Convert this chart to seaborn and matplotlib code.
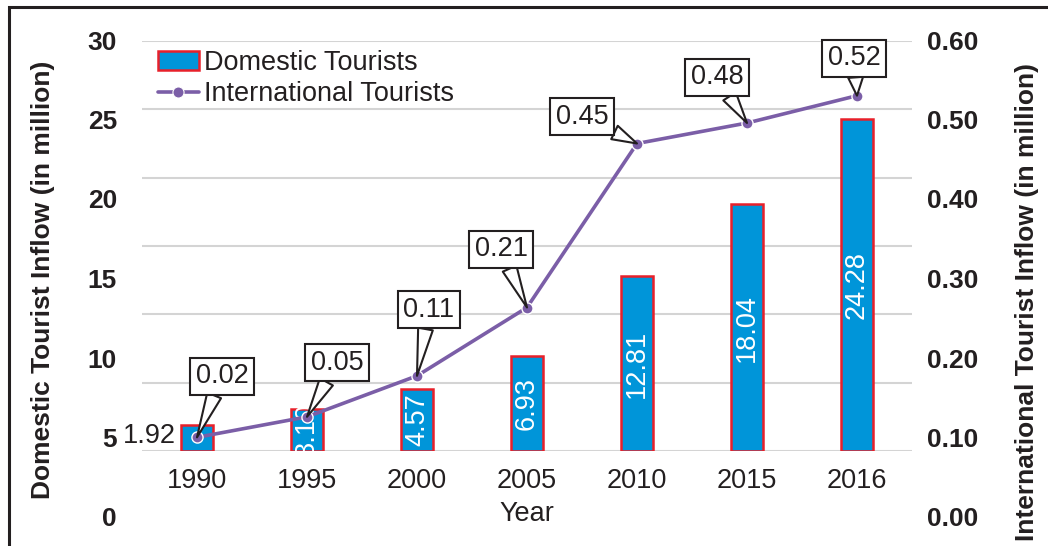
import numpy as np
import pandas as pd
import matplotlib
matplotlib.use("Agg")
import matplotlib.pyplot as plt
from matplotlib.patches import Patch, Rectangle
from matplotlib.lines import Line2D
from matplotlib.ticker import FormatStrFormatter
import seaborn as sns

# ---------------- data ----------------
years = ["1990", "1995", "2000", "2005", "2010", "2015", "2016"]
domestic = [1.92, 3.10, 4.57, 6.93, 12.81, 18.04, 24.28]
international = [0.02, 0.05, 0.11, 0.21, 0.45, 0.48, 0.52]
left_ticks = [0, 5, 10, 15, 20, 25, 30]
right_ticks = [0.0, 0.1, 0.2, 0.3, 0.4, 0.5, 0.6]

# ---------------- layout / style ----------------
# callout offsets (points) for the international value boxes
callout_offsets = [(18, 44), (21.6, 39), (8.6, 47.5), (-18.7, 41.8),
                   (-39.6, 19.4), (-21.6, 33), (-2, 27)]

BAR_FILL = "#0095D9"
BAR_EDGE = "#E8202A"
LINE_C = "#7B5EA7"
TXT = "#231F20"
GRID = "#D4D4D4"
FS = 19.5
FSB = 19

sns.set_theme(style="white")
plt.rcParams["font.family"] = ["Liberation Sans", "DejaVu Sans"]
plt.rcParams["text.color"] = TXT

W, H = 1048, 546
fig = plt.figure(figsize=(W / 100, H / 100), dpi=100)

def fx(px):
    return px / W

def fy(py):
    return 1 - py / H

x0, x1 = 142, 912
top, bot = 41, 451
lab_top, lab_bot = 40, 517

# label axes (tick labels placed as in reference)
lab = fig.add_axes([fx(x0), fy(lab_bot), fx(x1 - x0), (lab_bot - lab_top) / H])
lab.patch.set_visible(False)
for s in lab.spines.values():
    s.set_visible(False)
lab.set_xticks([])
lab.set_ylim(left_ticks[0], left_ticks[-1])
lab.set_yticks(left_ticks)
lab.tick_params(axis="y", length=0, pad=18, labelsize=FSB, labelcolor=TXT)
for t in lab.get_yticklabels():
    t.set_fontweight("bold")
lab.set_ylabel("Domestic Tourist Inflow (in million)", fontsize=FSB,
               fontweight="bold", color=TXT)
lab.yaxis.set_label_coords((55 - x0) / (x1 - x0), (lab_bot - 280) / (lab_bot - lab_top))

lab_r = lab.twinx()
lab_r.patch.set_visible(False)
for s in lab_r.spines.values():
    s.set_visible(False)
lab_r.set_ylim(right_ticks[0], right_ticks[-1])
lab_r.set_yticks(right_ticks)
lab_r.yaxis.set_major_formatter(FormatStrFormatter("%.2f"))
lab_r.tick_params(axis="y", length=0, pad=11, labelsize=FSB, labelcolor=TXT)
for t in lab_r.get_yticklabels():
    t.set_fontweight("bold")
lab_r.set_ylabel("International Tourist Inflow (in million)", fontsize=FSB,
                 fontweight="bold", color=TXT)
lab_r.yaxis.set_label_coords((1015 - x0) / (x1 - x0), (lab_bot - 302) / (lab_bot - lab_top))

# main axes
ax = fig.add_axes([fx(x0), fy(bot), fx(x1 - x0), (bot - top) / H])
ax.patch.set_visible(False)
df = pd.DataFrame({"Year": years, "Domestic": domestic})
bw = 0.29
sns.barplot(data=df, x="Year", y="Domestic", ax=ax, color=BAR_FILL,
            width=bw, edgecolor=BAR_EDGE, linewidth=1.8, saturation=1, zorder=3)
ax.set_ylim(left_ticks[0], left_ticks[-1])
ax.set_xlim(-0.5, len(years) - 0.5)
ax.set_yticks(left_ticks)
ax.set_yticklabels([])
ax.yaxis.grid(True, color=GRID, linewidth=1.5, zorder=0)
ax.set_axisbelow(True)
for s in ax.spines.values():
    s.set_visible(False)
ax.tick_params(axis="x", length=0, pad=12, labelsize=FS, labelcolor=TXT)
ax.tick_params(axis="y", length=0)
ax.set_ylabel("")
ax.set_xlabel("Year", fontsize=FS, color=TXT, labelpad=5)

# bar labels
for i, v in enumerate(domestic):
    if v < 3:
        ax.annotate(f"{v:.2f}", xy=(i - bw / 2, v / 2), xytext=(-4, 1),
                    textcoords="offset points", ha="right", va="center",
                    fontsize=FS, color=TXT, zorder=6)
    else:
        ax.text(i, v / 2, f"{v:.2f}", rotation=90, ha="center", va="center",
                fontsize=FS, color="white", zorder=6)

# line on twin axis
ax2 = ax.twinx()
ax2.patch.set_visible(False)
sns.lineplot(x=np.arange(len(years)), y=international, ax=ax2, color=LINE_C,
             linewidth=2.6, marker="o", markersize=8, markeredgecolor="white",
             markeredgewidth=1.0, zorder=5)
ax2.set_ylim(right_ticks[0], right_ticks[-1])
ax2.set_yticks([])
ax2.set_ylabel("")
for s in ax2.spines.values():
    s.set_visible(False)

for i, (v, off) in enumerate(zip(international, callout_offsets)):
    ax2.annotate(f"{v:.2f}", xy=(i, v), xytext=off, textcoords="offset points",
                 ha="center", va="center", fontsize=FS, color=TXT, zorder=8,
                 bbox=dict(boxstyle="square,pad=0.2", fc="white", ec=TXT, lw=1.5),
                 arrowprops=dict(arrowstyle="wedge,tail_width=0.55,shrink_factor=0.5",
                                 fc="white", ec=TXT, lw=1.5, shrinkA=0, shrinkB=0))

# legend
handles = [Patch(facecolor=BAR_FILL, edgecolor=BAR_EDGE, linewidth=1.8),
           Line2D([0], [0], color=LINE_C, linewidth=2.6, marker="o", markersize=8,
                  markeredgecolor="white", markeredgewidth=0.8)]
leg = ax2.legend(handles, ["Domestic Tourists", "International Tourists"],
                 loc="upper left", bbox_to_anchor=(16 / (x1 - x0), 1 - 9 / (bot - top)),
                 frameon=False, fontsize=FS, handlelength=1.5, handleheight=0.7,
                 handletextpad=0.2, labelspacing=0.2, borderpad=0, borderaxespad=0)
for t in leg.get_texts():
    t.set_color(TXT)

# outer frame
fig.add_artist(Rectangle((fx(9), -0.05), 1.2, fy(7) + 0.05, transform=fig.transFigure,
                         fill=False, edgecolor=TXT, linewidth=2.2))

fig.savefig("out.png", dpi=100)
